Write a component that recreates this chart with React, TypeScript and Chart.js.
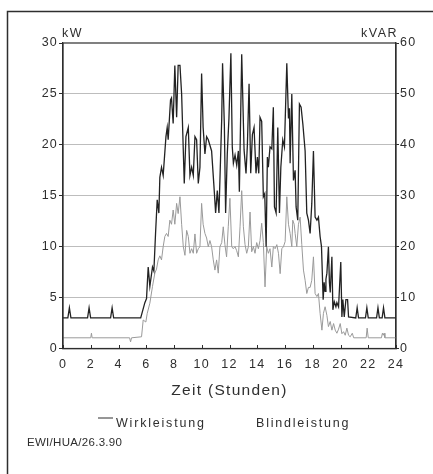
import React, { useEffect, useRef } from "react";
import { Chart, registerables } from "chart.js";

Chart.register(...registerables);

// Wirkleistung (kW, left axis) — hour of day / value
const kwHours = [0,0.35,0.46,0.57,1.77,1.88,1.99,3.43,3.54,3.65,5.6,5.9,6.02,6.14,6.26,6.45,6.55,6.67,6.79,6.91,6.98,7.1,7.22,7.42,7.51,7.58,7.75,7.82,7.94,8.06,8.19,8.3,8.43,8.55,8.74,8.86,9.03,9.15,9.27,9.39,9.51,9.63,9.75,9.87,9.99,10.1,10.23,10.35,10.47,10.71,10.9,11,11.12,11.24,11.44,11.5,11.63,11.72,11.84,11.96,12.1,12.2,12.28,12.4,12.52,12.64,12.71,12.88,13.05,13.19,13.29,13.41,13.53,13.65,13.77,13.91,14.01,14.11,14.2,14.32,14.44,14.54,14.64,14.73,14.8,14.92,15.05,15.16,15.24,15.36,15.48,15.6,15.7,15.84,15.96,16.13,16.25,16.32,16.37,16.49,16.61,16.73,16.8,16.92,17.04,17.16,17.29,17.45,17.57,17.69,17.81,17.93,18.05,18.17,18.3,18.41,18.53,18.63,18.75,18.82,18.89,18.95,19.02,19.13,19.2,19.26,19.38,19.45,19.55,19.67,19.74,19.86,20.02,20.1,20.17,20.27,20.39,20.51,20.58,21.1,21.2,21.3,21.8,21.9,22,22.6,22.7,22.8,23,23.1,23.2,24];
const kwValues = [3,3,4,3,3,4,3,3,4,3,3,4.5,4.9,8,6.1,8,7.6,11.3,14.6,13.3,16.8,17.8,17,20.8,21.7,20.5,24.4,24.6,22.1,27.8,22.7,27.8,27.8,25,16.2,20.8,21.7,17,17.8,17,20.8,20.5,16.2,17.8,27,21.7,19.1,20.8,20.5,19.4,15.5,13.3,15.5,13.3,22.6,28,21.9,13.3,19.1,22.6,29,19.8,18.2,19,18,19.4,15.4,28.9,19.5,17.2,20,26,17.2,21,21.7,17.2,18.8,17.2,22.7,22.3,14.9,15.2,10,18.8,17.8,19.8,19.6,23.7,13.9,13.3,21.7,13.3,17.8,20.5,19.8,28,22.6,23.6,18.2,25,16.5,17.5,13.9,12.6,24,23.7,22,19.4,13.3,12.6,11.3,14.2,19.4,12.9,12.6,12.9,11,10,4.8,6.5,5.6,6.8,7.4,10,6.5,5.5,9,3.8,4.6,4.1,4.5,4.1,8.5,3.1,4.8,3.1,4.8,4.8,3.1,3,4,3,3,4,3,3,4,3,3,4,3,3];

// Blindleistung (kVAR, right axis) — hour of day / value
const kvarHours = [0,2,2.05,2.1,4.8,4.87,4.94,5.66,5.78,5.97,6.07,6.26,6.45,6.62,6.74,6.86,6.98,7.1,7.22,7.34,7.46,7.58,7.7,7.82,7.94,8.06,8.19,8.3,8.43,8.55,8.67,8.79,8.91,9.03,9.15,9.27,9.39,9.51,9.63,9.75,9.87,9.99,10.1,10.23,10.35,10.47,10.59,10.71,10.83,10.95,11.07,11.19,11.31,11.44,11.55,11.67,11.79,11.91,12.03,12.16,12.27,12.4,12.52,12.64,12.76,12.88,13,13.12,13.24,13.36,13.48,13.6,13.72,13.84,13.96,14.08,14.2,14.32,14.44,14.56,14.68,14.8,14.92,15.05,15.16,15.29,15.41,15.53,15.65,15.77,15.89,16.01,16.13,16.25,16.37,16.49,16.56,16.66,16.73,16.85,16.97,17.09,17.21,17.33,17.45,17.57,17.69,17.81,17.93,18.05,18.17,18.3,18.41,18.53,18.66,18.77,18.89,19.02,19.13,19.26,19.38,19.5,19.62,19.74,19.86,19.98,20.1,20.22,20.34,20.46,20.58,20.7,20.85,20.95,21.85,21.92,22,22.95,23.02,23.08,23.14,23.2,24];
const kvarValues = [2.1,2.1,3,2.1,2.1,1.3,2.1,2.3,5.6,5.2,6.9,8.9,12.2,14.8,15.6,17.4,18.2,17.4,20,22,22.6,22,25.2,24.4,27.2,24.4,28.5,26.5,29.8,24.4,20,18.3,23.2,22,18.7,19.6,18.7,22.5,18.7,19.6,20,28.5,24.4,22.6,21.7,20,21.2,20,17.4,15.4,17.4,14.8,20,20.8,23.9,20.4,18,23.9,29.5,20,19.6,20,19.2,18,23.9,31,23.9,20.4,18.7,20,26.8,19,20,18.7,20.8,19.6,21.2,24.6,20.8,12.1,20,18.7,19.6,16,20,19.6,20.4,18.7,14.7,19.6,20,21,29.8,24.4,22.6,20,25.2,24.4,22.6,20,24.4,25.8,20.4,15.4,13.4,10.8,12,12,13.4,18,10.8,10.2,10.8,6.9,3.6,6.9,8.2,6.5,4.3,5.3,3.6,4.9,3.6,3,3.8,4.9,2.9,3.3,2.6,4,2.6,2.3,3,2.1,2.1,4,2.1,2.1,3,2.6,3,2.1,2.1];

const seriesNames = ["Wirkleistung", "Blindleistung"];
const leftUnit = "kW";
const rightUnit = "kVAR";
const xAxisTitle = "Zeit (Stunden)";
const footerText = "EWI/HUA/26.3.90";

const INK = "#2e2e2e";
const FONT = '"Liberation Sans", Arial, sans-serif';

const decorPlugin = {
  id: "decor",
  beforeDraw(chart: any) {
    (chart.ctx as any).letterSpacing = "1.2px";
  },
  afterDraw(chart: any) {
    const ctx = chart.ctx as CanvasRenderingContext2D & { letterSpacing?: string };
    const { left, right, top, bottom } = chart.chartArea;
    const xs = chart.scales.x;
    ctx.save();
    // plot frame
    ctx.strokeStyle = INK;
    ctx.lineWidth = 1.2;
    ctx.strokeRect(left, top, right - left, bottom - top);
    // inner x tick marks
    ctx.lineWidth = 1;
    xs.ticks.forEach((t: any) => {
      const px = Math.round(xs.getPixelForValue(t.value)) + 0.5;
      ctx.beginPath();
      ctx.moveTo(px, bottom);
      ctx.lineTo(px, bottom - 3.5);
      ctx.stroke();
    });
    // outer figure frame (top and left only)
    ctx.lineWidth = 1.5;
    ctx.beginPath();
    ctx.moveTo(7.5, 474);
    ctx.lineTo(7.5, 11.5);
    ctx.lineTo(433, 11.5);
    ctx.stroke();

    ctx.fillStyle = INK;
    ctx.textBaseline = "alphabetic";
    // units
    ctx.letterSpacing = "1.5px";
    ctx.font = `12.5px ${FONT}`;
    ctx.textAlign = "left";
    ctx.fillText(leftUnit, left - 1, top - 6);
    ctx.textAlign = "right";
    ctx.fillText(rightUnit, right + 2, top - 6);
    // x title
    ctx.letterSpacing = "1.3px";
    ctx.font = `15.5px ${FONT}`;
    ctx.textAlign = "center";
    ctx.fillText(xAxisTitle, (left + right) / 2, bottom + 46.5);
    // legend
    ctx.letterSpacing = "1.8px";
    ctx.font = `12.5px ${FONT}`;
    ctx.textAlign = "left";
    ctx.strokeStyle = INK;
    ctx.lineWidth = 1;
    ctx.beginPath();
    ctx.moveTo(98, 418);
    ctx.lineTo(113, 418);
    ctx.stroke();
    ctx.fillText(seriesNames[0], 116, 427);
    ctx.fillText(seriesNames[1], 256, 427);
    // footer
    ctx.letterSpacing = "0.3px";
    ctx.font = `11.5px ${FONT}`;
    ctx.fillText(footerText, 27, 445.5);
    ctx.restore();
  },
};

export default function App() {
  const ref = useRef<HTMLCanvasElement | null>(null);

  useEffect(() => {
    if (!ref.current) return;
    const kw = kwHours.map((h, i) => ({ x: h, y: kwValues[i] }));
    const kvar = kvarHours.map((h, i) => ({ x: h, y: kvarValues[i] }));
    const chart = new Chart(ref.current, {
      type: "line",
      data: {
        datasets: [
          {
            label: seriesNames[0],
            data: kw,
            yAxisID: "y",
            borderColor: "#222222",
            borderWidth: 1.3,
            pointRadius: 0,
            tension: 0,
            order: 0,
          },
          {
            label: seriesNames[1],
            data: kvar,
            yAxisID: "y1",
            borderColor: "#9a9a9a",
            borderWidth: 1,
            pointRadius: 0,
            tension: 0,
            order: 1,
          },
        ],
      },
      options: {
        animation: false,
        responsive: false,
        devicePixelRatio: 1,
        layout: { padding: { top: 43, left: 0, right: 0, bottom: 0 } },
        plugins: { legend: { display: false }, tooltip: { enabled: false }, title: { display: false } },
        scales: {
          x: {
            type: "linear",
            min: 0,
            max: 24,
            ticks: { stepSize: 2, padding: 9, color: INK, font: { size: 12.5, family: FONT } },
            grid: { display: true, drawOnChartArea: false, drawTicks: false },
            border: { display: true, color: INK, width: 1.2 },
            afterFit: (s: any) => {
              s.height = 474 - 348.5;
            },
          },
          y: {
            position: "left",
            min: 0,
            max: 30,
            ticks: { stepSize: 5, padding: 1, color: INK, font: { size: 12.5, family: FONT } },
            grid: {
              color: (c: any) => (c.tick && (c.tick.value === 0 || c.tick.value === 30) ? "rgba(0,0,0,0)" : "#bdbdbd"),
              tickColor: INK,
              tickLength: 4,
              lineWidth: 1,
            },
            border: { display: true, color: INK, width: 1.2 },
            afterFit: (s: any) => {
              s.width = 63;
            },
          },
          y1: {
            position: "right",
            min: 0,
            max: 60,
            ticks: { stepSize: 10, padding: 1, color: INK, font: { size: 12.5, family: FONT } },
            grid: { drawOnChartArea: false, tickColor: INK, tickLength: 3, lineWidth: 1 },
            border: { display: true, color: INK, width: 1.2 },
            afterFit: (s: any) => {
              s.width = 433 - 396;
            },
          },
        },
      },
      plugins: [decorPlugin],
    });
    return () => chart.destroy();
  }, []);

  return (
    <div style={{ position: "absolute", left: 0, top: 0, width: 433, height: 474, overflow: "hidden", background: "#fff" }}>
      <canvas ref={ref} width={433} height={474} style={{ display: "block", width: 433, height: 474 }} />
    </div>
  );
}
